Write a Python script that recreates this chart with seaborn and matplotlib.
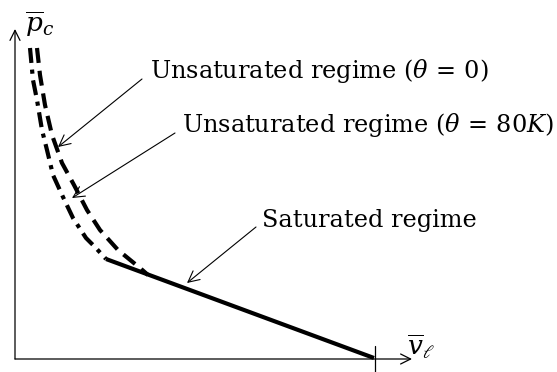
import matplotlib
matplotlib.use('Agg')
from matplotlib import pyplot as plt
import pandas as pd
import seaborn as sns

# Curve data (arbitrary units, origin at the axes corner)
theta0_v = [22, 25, 30, 37, 47, 59, 72, 85, 103, 125, 133]
theta0_p = [311, 284, 254, 224, 196, 174, 149, 129, 109, 91, 84]

theta80_v = [15, 18, 22, 27, 32, 38, 48, 58, 71, 80, 91]
theta80_p = [311, 279, 259, 229, 209, 184, 162, 141, 121, 112, 100]

sat_v = [91, 359]
sat_p = [100, 1]

labels = ['Unsaturated regime ($\\theta\\,=\\,0$)',
          'Unsaturated regime ($\\theta\\,=\\,80K$)',
          'Saturated regime']

sns.set_style('white')
plt.rcParams['font.family'] = ['DejaVu Serif']
plt.rcParams['mathtext.fontset'] = 'dejavuserif'
plt.rcParams['text.color'] = 'black'

f = plt.figure(figsize=(5.57, 3.72), dpi=100)
ax = f.add_axes([0, 0, 1, 1])

df0 = pd.DataFrame({'v': theta0_v, 'p': theta0_p})
df80 = pd.DataFrame({'v': theta80_v, 'p': theta80_p})
dfs = pd.DataFrame({'v': sat_v, 'p': sat_p})

sns.lineplot(data=df0, x='v', y='p', sort=False, ax=ax, color='black',
             lw=3, linestyle=(0, (3.6, 1.9)), dash_capstyle='butt')
sns.lineplot(data=df80, x='v', y='p', sort=False, ax=ax, color='black',
             lw=3, linestyle=(0, (3.6, 1.6, 1.0, 1.6)), dash_capstyle='butt')
sns.lineplot(data=dfs, x='v', y='p', sort=False, ax=ax, color='black',
             lw=3, solid_capstyle='butt')

ax.set_xlim(-15, 542)
ax.set_ylim(-13, 359)
ax.axis('off')

# axes with arrows
arrow = dict(arrowstyle='->', lw=0.9, color='black', mutation_scale=18,
             shrinkA=0, shrinkB=0)
ax.annotate('', xy=(0, 330), xytext=(0, 0), arrowprops=arrow)
ax.annotate('', xy=(397, 0), xytext=(0, 0), arrowprops=arrow)
ax.plot([360, 360], [-13, 13], color='black', lw=0.9)

ax.text(25, 335, '$\\overline{p}_c$', fontsize=19, ha='center', va='center')
ax.text(406, 12, '$\\overline{v}_\\ell$', fontsize=19, ha='center', va='center')

# annotations
pointer = dict(arrowstyle='->', lw=0.8, color='black', mutation_scale=20,
               shrinkA=0, shrinkB=0)
ax.annotate('', xy=(43, 212), xytext=(127, 280), arrowprops=pointer)
ax.annotate('', xy=(57, 161), xytext=(160, 226), arrowprops=pointer)
ax.annotate('', xy=(172, 76), xytext=(241, 132), arrowprops=pointer)

ax.text(135, 281, labels[0], fontsize=17.3, ha='left', va='baseline')
ax.text(167, 227, labels[1], fontsize=17.3, ha='left', va='baseline')
ax.text(247, 132, labels[2], fontsize=17.3, ha='left', va='baseline')

plt.savefig('out.png', dpi=100)
